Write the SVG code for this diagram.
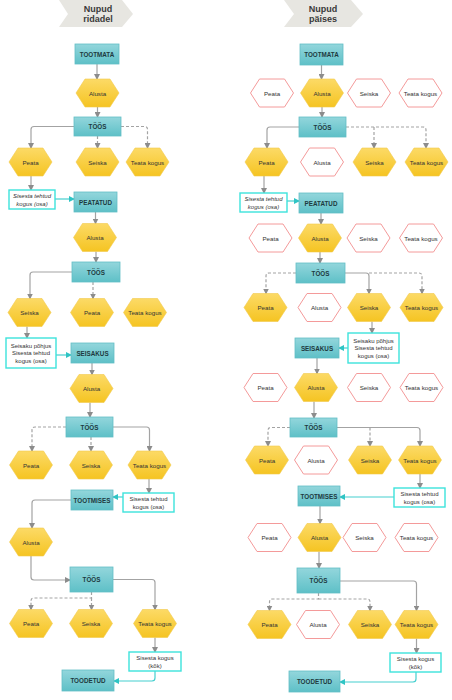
<svg xmlns="http://www.w3.org/2000/svg" width="452" height="700" viewBox="0 0 452 700">
<style>
text{font-family:"Liberation Sans",Arial,sans-serif;text-anchor:middle;dominant-baseline:central;fill:#333}
.hd{font-size:9px;font-weight:bold;fill:#3a3a3a}
.st{fill:url(#gt);stroke:#63bec5;stroke-width:0.8}
.stt{font-size:6.3px;font-weight:bold;fill:#1d3a40}
.hf{fill:url(#gy);stroke:#f2c94c;stroke-width:0.6}
.ho{fill:#fff;stroke:#f49a9a;stroke-width:1}
.ht{font-size:6.2px;fill:#333}
.bx{fill:#fff;stroke:#3de3dc;stroke-width:1.4}
.bt{font-size:6px;fill:#333}
.it{font-style:italic}
.c{fill:none;stroke:#a3a3a3;stroke-width:1.2;marker-end:url(#ag)}
.d{stroke-dasharray:3,2}
.cy{fill:none;stroke:#45cfcf;stroke-width:1.2;marker-end:url(#ac)}
</style>
<defs>
<linearGradient id="gt" x1="0" y1="0" x2="0" y2="1"><stop offset="0" stop-color="#93d6dc"/><stop offset="1" stop-color="#5ec0c7"/></linearGradient>
<linearGradient id="gy" x1="0" y1="0" x2="0" y2="1"><stop offset="0" stop-color="#fcda66"/><stop offset="1" stop-color="#f5c422"/></linearGradient>
<path id="hx" d="M-21.5,0 L-12.5,-14 L12.5,-14 L21.5,0 L12.5,14 L-12.5,14Z"/>
<marker id="ag" markerWidth="6" markerHeight="6" refX="5" refY="3" orient="auto" markerUnits="userSpaceOnUse"><path d="M0,0 L6,3 L0,6Z" fill="#8c8c8c"/></marker>
<marker id="ac" markerWidth="6" markerHeight="6" refX="5" refY="3" orient="auto" markerUnits="userSpaceOnUse"><path d="M0,0 L6,3 L0,6Z" fill="#2fc4c4"/></marker>
</defs>

<g id="headers">
<polygon points="59,0 122,0 133,14 122,27 59,27 68,14" fill="#e7e6e1"/>
<text class="hd" x="98" y="8.5">Nupud</text>
<text class="hd" x="98" y="19">ridadel</text>
<polygon points="284,0 351,0 363,14 351,27 284,27 294,14" fill="#e7e6e1"/>
<text class="hd" x="323" y="8.5">Nupud</text>
<text class="hd" x="323" y="19">päises</text>
</g>

<g id="connectors">
<!-- left column -->
<path class="c" d="M97,64 V79"/>
<path class="c" d="M97.5,107 V117"/>
<path class="c" d="M74,126.5 H34 Q31,126.5 31,129.5 V148"/>
<path class="c d" d="M97.5,136 V148"/>
<path class="c d" d="M121,126.5 H144.5 Q147.5,126.5 147.5,129.5 V148"/>
<path class="c" d="M31,176 V190"/>
<path class="cy" d="M55,199 H74"/>
<path class="c" d="M95.5,212 V223.5"/>
<path class="c" d="M96,251.5 V262"/>
<path class="c" d="M72,272 H33 Q30,272 30,275 V298.5"/>
<path class="c d" d="M93,282 V298.5"/>
<path class="c" d="M27,326.5 V338"/>
<path class="cy" d="M56,355 H71"/>
<path class="c" d="M92,363 V374.5"/>
<path class="c" d="M90,402.5 V417"/>
<path class="c d" d="M66,427 H35 Q32,427 32,430 V451"/>
<path class="c d" d="M91,437 V451"/>
<path class="c" d="M113,427 H146.5 Q149.5,427 149.5,430 V451"/>
<path class="c" d="M149,479 V493"/>
<path class="cy" d="M123,497 H113"/>
<path class="c" d="M71,500 H35 Q32,500 32,503 V528"/>
<path class="c" d="M31,556 V577 Q31,580 34,580 H70"/>
<path class="c d" d="M91.5,592 V598 H34 Q31,598 31,601 V609.5"/>
<path class="c d" d="M91.5,598 V609.5"/>
<path class="c" d="M113,579.5 H152 Q155,579.5 155,582.5 V609.5"/>
<path class="c" d="M155,637.5 V652"/>
<path class="cy" d="M155,671 V678 Q155,681 152,681 H114"/>
<!-- right column -->
<path class="c" d="M321.5,65 V79"/>
<path class="c" d="M322,107 V117"/>
<path class="c" d="M299,127 H270 Q267,127 267,130 V148"/>
<path class="c d" d="M346,127 H423 Q426,127 426,130 V148"/>
<path class="c d" d="M374,127 V148"/>
<path class="c" d="M264,176 V193"/>
<path class="cy" d="M287,201 H299"/>
<path class="c" d="M321,213 V224"/>
<path class="c" d="M320,252 V263"/>
<path class="c d" d="M296,273 H269 Q266,273 266,276 V293.5"/>
<path class="c" d="M345,273 H366 Q369,273 369,276 V293.5"/>
<path class="c d" d="M369,273 H419 Q422,273 422,276 V293.5"/>
<path class="c" d="M372,321.5 V333"/>
<path class="cy" d="M348,348 H339"/>
<path class="c" d="M317,358 V373.5"/>
<path class="c" d="M314,401.5 V418"/>
<path class="c d" d="M290,427.5 H271 Q268,427.5 268,430.5 V446"/>
<path class="c" d="M337,427.5 H417 Q420,427.5 420,430.5 V446"/>
<path class="c d" d="M370,427.5 V446"/>
<path class="c" d="M420,474 V488"/>
<path class="cy" d="M394,497 H340"/>
<path class="c" d="M320,506 V523.5"/>
<path class="c" d="M319,551.5 V568"/>
<path class="c d" d="M318.5,593 V599 H272.5 Q269.5,599 269.5,602 V610.5"/>
<path class="c d" d="M318.5,599 H367 Q370,599 370,602 V610.5"/>
<path class="c" d="M340,581 H413.5 Q416.5,581 416.5,584 V610.5"/>
<path class="c" d="M416.5,638.5 V653"/>
<path class="cy" d="M416,672 V679 Q416,682 413,682 H340"/>
</g>

<!-- LEFT COLUMN NODES -->
<g id="L_tootmata"><rect class="st" x="75" y="44" width="44" height="20"/><text class="stt" x="97" y="54">TOOTMATA</text></g>
<g id="L_alusta1"><use href="#hx" class="hf" x="97.5" y="93"/><text class="ht" x="97.5" y="93">Alusta</text></g>
<g id="L_toos1"><rect class="st" x="74" y="117" width="47" height="19"/><text class="stt" x="97.5" y="126.5">TÖÖS</text></g>
<g id="L_peata1"><use href="#hx" class="hf" x="30.5" y="162"/><text class="ht" x="30.5" y="162">Peata</text></g>
<g id="L_seiska1"><use href="#hx" class="hf" x="97.5" y="162"/><text class="ht" x="97.5" y="162">Seiska</text></g>
<g id="L_teata1"><use href="#hx" class="hf" x="147.5" y="162"/><text class="ht" x="147.5" y="162">Teata kogus</text></g>
<g id="L_sis1"><rect class="bx" x="9" y="190" width="46" height="19"/><text class="bt it" x="32" y="196">Sisesta tehtud</text><text class="bt it" x="32" y="203.5">kogus (osa)</text></g>
<g id="L_peatatud"><rect class="st" x="74" y="192" width="43" height="20"/><text class="stt" x="95.5" y="202">PEATATUD</text></g>
<g id="L_alusta2"><use href="#hx" class="hf" x="95" y="237.5"/><text class="ht" x="95" y="237.5">Alusta</text></g>
<g id="L_toos2"><rect class="st" x="72" y="262" width="48" height="20"/><text class="stt" x="96" y="272">TÖÖS</text></g>
<g id="L_seiska2"><use href="#hx" class="hf" x="29.5" y="312.5"/><text class="ht" x="29.5" y="312.5">Seiska</text></g>
<g id="L_peata2"><use href="#hx" class="hf" x="92" y="312.5"/><text class="ht" x="92" y="312.5">Peata</text></g>
<g id="L_teata2"><use href="#hx" class="hf" x="145" y="312.5"/><text class="ht" x="145" y="312.5">Teata kogus</text></g>
<g id="L_sis2"><rect class="bx" x="6" y="338" width="50" height="30"/><text class="bt" x="31" y="345.5">Seisaku põhjus</text><text class="bt" x="31" y="353">Sisesta tehtud</text><text class="bt" x="31" y="360.5">kogus (osa)</text></g>
<g id="L_seisakus"><rect class="st" x="71" y="343" width="43" height="20"/><text class="stt" x="92.5" y="353">SEISAKUS</text></g>
<g id="L_alusta3"><use href="#hx" class="hf" x="91.5" y="388.5"/><text class="ht" x="91.5" y="388.5">Alusta</text></g>
<g id="L_toos3"><rect class="st" x="66" y="417" width="47" height="20"/><text class="stt" x="89.5" y="427">TÖÖS</text></g>
<g id="L_peata3"><use href="#hx" class="hf" x="31" y="465"/><text class="ht" x="31" y="465">Peata</text></g>
<g id="L_seiska3"><use href="#hx" class="hf" x="91" y="465"/><text class="ht" x="91" y="465">Seiska</text></g>
<g id="L_teata3"><use href="#hx" class="hf" x="149.5" y="465"/><text class="ht" x="149.5" y="465">Teata kogus</text></g>
<g id="L_sis3"><rect class="bx" x="123" y="493" width="51" height="19"/><text class="bt" x="148.5" y="499">Sisesta tehtud</text><text class="bt" x="148.5" y="506.5">kogus (osa)</text></g>
<g id="L_tootmises"><rect class="st" x="71" y="490" width="42" height="20"/><text class="stt" x="92" y="500">TOOTMISES</text></g>
<g id="L_alusta4"><use href="#hx" class="hf" x="31" y="542"/><text class="ht" x="31" y="542">Alusta</text></g>
<g id="L_toos4"><rect class="st" x="70" y="567" width="43" height="25"/><text class="stt" x="91.5" y="579.5">TÖÖS</text></g>
<g id="L_peata4"><use href="#hx" class="hf" x="31" y="623.5"/><text class="ht" x="31" y="623.5">Peata</text></g>
<g id="L_seiska4"><use href="#hx" class="hf" x="91" y="623.5"/><text class="ht" x="91" y="623.5">Seiska</text></g>
<g id="L_teata4"><use href="#hx" class="hf" x="155" y="623.5"/><text class="ht" x="155" y="623.5">Teata kogus</text></g>
<g id="L_sis4"><rect class="bx" x="129" y="652" width="52" height="19"/><text class="bt" x="155" y="658">Sisesta kogus</text><text class="bt" x="155" y="665.5">(kõk)</text></g>
<g id="L_toodetud"><rect class="st" x="62" y="670" width="52" height="21"/><text class="stt" x="88" y="680.5">TOODETUD</text></g>

<!-- RIGHT COLUMN NODES -->
<g id="R_tootmata"><rect class="st" x="300" y="44" width="43" height="21"/><text class="stt" x="321.5" y="54.5">TOOTMATA</text></g>
<g id="R_peata1"><use href="#hx" class="ho" x="272" y="93"/><text class="ht" x="272" y="93">Peata</text></g>
<g id="R_alusta1"><use href="#hx" class="hf" x="322" y="93"/><text class="ht" x="322" y="93">Alusta</text></g>
<g id="R_seiska1"><use href="#hx" class="ho" x="369" y="93"/><text class="ht" x="369" y="93">Seiska</text></g>
<g id="R_teata1"><use href="#hx" class="ho" x="420.5" y="93"/><text class="ht" x="420.5" y="93">Teata kogus</text></g>
<g id="R_toos1"><rect class="st" x="299" y="117" width="47" height="20"/><text class="stt" x="322.5" y="127">TÖÖS</text></g>
<g id="R_peata2"><use href="#hx" class="hf" x="266.5" y="162"/><text class="ht" x="266.5" y="162">Peata</text></g>
<g id="R_alusta2"><use href="#hx" class="ho" x="322" y="162"/><text class="ht" x="322" y="162">Alusta</text></g>
<g id="R_seiska2"><use href="#hx" class="hf" x="374.5" y="162"/><text class="ht" x="374.5" y="162">Seiska</text></g>
<g id="R_teata2"><use href="#hx" class="hf" x="426.5" y="162"/><text class="ht" x="426.5" y="162">Teata kogus</text></g>
<g id="R_sis1"><rect class="bx" x="240" y="193" width="47" height="19"/><text class="bt it" x="263.5" y="199">Sisesta tehtud</text><text class="bt it" x="263.5" y="206.5">kogus (osa)</text></g>
<g id="R_peatatud"><rect class="st" x="299" y="193" width="44" height="20"/><text class="stt" x="321" y="203">PEATATUD</text></g>
<g id="R_peata3"><use href="#hx" class="ho" x="270.5" y="238"/><text class="ht" x="270.5" y="238">Peata</text></g>
<g id="R_alusta3"><use href="#hx" class="hf" x="320" y="238"/><text class="ht" x="320" y="238">Alusta</text></g>
<g id="R_seiska3"><use href="#hx" class="ho" x="368.5" y="238"/><text class="ht" x="368.5" y="238">Seiska</text></g>
<g id="R_teata3"><use href="#hx" class="ho" x="421" y="238"/><text class="ht" x="421" y="238">Teata kogus</text></g>
<g id="R_toos2"><rect class="st" x="296" y="263" width="49" height="20"/><text class="stt" x="320.5" y="273">TÖÖS</text></g>
<g id="R_peata4"><use href="#hx" class="hf" x="265.5" y="307.5"/><text class="ht" x="265.5" y="307.5">Peata</text></g>
<g id="R_alusta4"><use href="#hx" class="ho" x="319.5" y="307.5"/><text class="ht" x="319.5" y="307.5">Alusta</text></g>
<g id="R_seiska4"><use href="#hx" class="hf" x="369" y="307.5"/><text class="ht" x="369" y="307.5">Seiska</text></g>
<g id="R_teata4"><use href="#hx" class="hf" x="421.5" y="307.5"/><text class="ht" x="421.5" y="307.5">Teata kogus</text></g>
<g id="R_sis2"><rect class="bx" x="348" y="333" width="51" height="30"/><text class="bt" x="373.5" y="340.5">Seisaku põhjus</text><text class="bt" x="373.5" y="348">Sisesta tehtud</text><text class="bt" x="373.5" y="355.5">kogus (osa)</text></g>
<g id="R_seisakus"><rect class="st" x="295" y="338" width="44" height="20"/><text class="stt" x="317" y="348">SEISAKUS</text></g>
<g id="R_peata5"><use href="#hx" class="ho" x="265.5" y="387.5"/><text class="ht" x="265.5" y="387.5">Peata</text></g>
<g id="R_alusta5"><use href="#hx" class="hf" x="316" y="387.5"/><text class="ht" x="316" y="387.5">Alusta</text></g>
<g id="R_seiska5"><use href="#hx" class="ho" x="369" y="387.5"/><text class="ht" x="369" y="387.5">Seiska</text></g>
<g id="R_teata5"><use href="#hx" class="ho" x="421.5" y="387.5"/><text class="ht" x="421.5" y="387.5">Teata kogus</text></g>
<g id="R_toos3"><rect class="st" x="290" y="418" width="47" height="19"/><text class="stt" x="313.5" y="427.5">TÖÖS</text></g>
<g id="R_peata6"><use href="#hx" class="hf" x="267" y="460"/><text class="ht" x="267" y="460">Peata</text></g>
<g id="R_alusta6"><use href="#hx" class="ho" x="316" y="460"/><text class="ht" x="316" y="460">Alusta</text></g>
<g id="R_seiska6"><use href="#hx" class="hf" x="370" y="460"/><text class="ht" x="370" y="460">Seiska</text></g>
<g id="R_teata6"><use href="#hx" class="hf" x="420" y="460"/><text class="ht" x="420" y="460">Teata kogus</text></g>
<g id="R_sis3"><rect class="bx" x="394" y="488" width="51" height="19"/><text class="bt" x="419.5" y="494">Sisesta tehtud</text><text class="bt" x="419.5" y="501.5">kogus (osa)</text></g>
<g id="R_tootmises"><rect class="st" x="298" y="486" width="42" height="20"/><text class="stt" x="319" y="496">TOOTMISES</text></g>
<g id="R_peata7"><use href="#hx" class="ho" x="269.5" y="537.5"/><text class="ht" x="269.5" y="537.5">Peata</text></g>
<g id="R_alusta7"><use href="#hx" class="hf" x="319.5" y="537.5"/><text class="ht" x="319.5" y="537.5">Alusta</text></g>
<g id="R_seiska7"><use href="#hx" class="ho" x="364.5" y="537.5"/><text class="ht" x="364.5" y="537.5">Seiska</text></g>
<g id="R_teata7"><use href="#hx" class="ho" x="416.5" y="537.5"/><text class="ht" x="416.5" y="537.5">Teata kogus</text></g>
<g id="R_toos4"><rect class="st" x="297" y="568" width="43" height="25"/><text class="stt" x="318.5" y="580.5">TÖÖS</text></g>
<g id="R_peata8"><use href="#hx" class="hf" x="269.5" y="624.5"/><text class="ht" x="269.5" y="624.5">Peata</text></g>
<g id="R_alusta8"><use href="#hx" class="ho" x="318" y="624.5"/><text class="ht" x="318" y="624.5">Alusta</text></g>
<g id="R_seiska8"><use href="#hx" class="hf" x="370" y="624.5"/><text class="ht" x="370" y="624.5">Seiska</text></g>
<g id="R_teata8"><use href="#hx" class="hf" x="416.5" y="624.5"/><text class="ht" x="416.5" y="624.5">Teata kogus</text></g>
<g id="R_sis4"><rect class="bx" x="390" y="653" width="51" height="19"/><text class="bt" x="415.5" y="659">Sisesta kogus</text><text class="bt" x="415.5" y="666.5">(kõk)</text></g>
<g id="R_toodetud"><rect class="st" x="289" y="671" width="51" height="21"/><text class="stt" x="314.5" y="681.5">TOODETUD</text></g>
</svg>
